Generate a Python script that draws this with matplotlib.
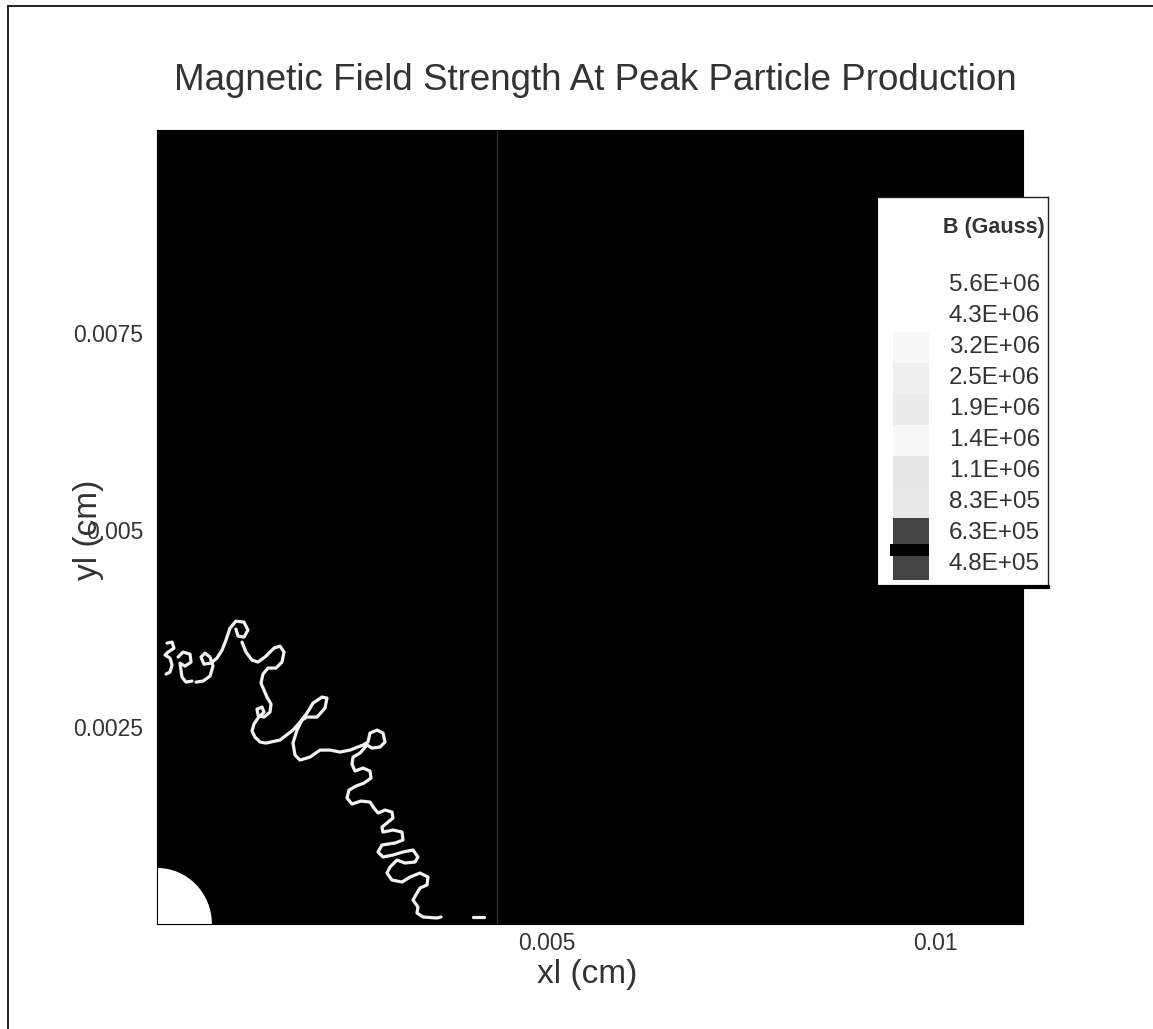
import matplotlib
matplotlib.use("Agg")
import matplotlib.pyplot as plt
from matplotlib.patches import Ellipse, Rectangle
from matplotlib.lines import Line2D
import numpy as np

# ---------------- data ----------------
title = "Magnetic Field Strength At Peak Particle Production"
x_label = "xl (cm)"
y_label = "yl (cm)"
x_ticks = [0.005, 0.01]
x_tick_labels = ["0.005", "0.01"]
y_ticks = [0.0025, 0.005, 0.0075]
y_tick_labels = ["0.0025", "0.005", "0.0075"]
x_range = [0.0, 0.01112]
y_range = [0.0, 0.01008]

# patch boundary (cm)
patch_boundary_x = 0.004365
# white core region (quarter disc at origin), radius in cm
core_radius_x = 0.000705
core_radius_y = 0.000712

# filament (high field) contours, coordinates in micrometres (1e-4 cm)
fil_a_x = [1.28, 1.93, 2.18, 1.41, 1.03, 1.67, 1.93, 1.67, 1.16]
fil_a_y = [35.66, 35.79, 35.02, 34.52, 34.14, 33.76, 32.87, 31.98, 31.73]

fil_b_x = [2.70, 3.34, 4.24, 4.37, 3.60, 2.95, 3.08, 3.21, 3.72, 4.49]
fil_b_y = [33.88, 34.52, 34.26, 33.25, 32.74, 33.12, 32.23, 31.34, 30.71, 30.84]

fil_c_x = [5.01, 5.91, 6.81, 7.19, 6.81, 6.16, 5.65, 6.03, 6.93, 7.70, 8.35, 8.86,
           9.37, 10.14, 11.17, 11.68, 11.17, 10.40, 10.14]
fil_c_y = [30.71, 30.84, 31.47, 32.74, 33.88, 34.39, 33.88, 32.99, 33.12, 33.76, 34.77,
           36.04, 37.56, 38.45, 38.32, 37.31, 36.42, 36.55, 37.44]

fil_d_x = [10.91, 11.43, 12.20, 12.97, 14.00, 15.02, 15.79, 16.31, 16.05, 15.28, 14.25,
           13.61, 13.35, 13.74, 14.12, 14.64, 14.51, 13.74, 12.97, 12.84, 13.48, 13.74,
           12.97, 12.45, 12.20, 12.58, 13.23, 14.00, 15.79, 17.46, 18.36, 19.26, 20.03,
           21.19, 21.83, 21.57, 20.54, 19.26, 18.62, 17.98, 17.46, 17.72, 18.36, 19.65,
           20.93, 22.21, 23.50, 24.78, 26.45, 27.09, 27.35, 28.25, 29.02, 29.28, 28.63,
           27.61, 26.96, 26.07, 25.17, 25.04, 25.42, 26.45, 27.35, 27.48, 26.58, 25.55,
           24.65, 24.40, 25.04, 26.19, 27.35, 27.86, 28.38, 29.28, 30.17, 30.30, 29.53,
           28.89, 29.02, 30.30, 31.46, 31.59, 30.56, 28.89, 28.38, 29.02, 30.30, 31.59,
           32.87, 33.51, 33.13, 31.84, 30.82, 29.92, 29.53, 30.17, 31.46, 32.49, 33.77,
           34.80, 34.67, 33.77, 33.38, 32.87, 33.51, 33.38, 34.15, 35.95, 36.47]
fil_d_y = [35.79, 34.52, 33.50, 33.25, 34.01, 35.02, 35.28, 34.52, 33.25, 32.49, 32.49,
           31.73, 30.58, 29.69, 28.81, 27.92, 26.90, 26.27, 26.52, 27.28, 27.54, 26.90,
           26.14, 25.38, 24.49, 23.73, 23.10, 22.97, 23.35, 24.62, 25.63, 26.78, 28.04,
           28.81, 28.68, 27.41, 26.27, 26.27, 25.89, 24.62, 22.97, 21.45, 20.81, 21.19,
           22.08, 22.08, 21.83, 22.08, 22.72, 23.10, 24.24, 24.62, 24.24, 23.10, 22.46,
           22.33, 22.72, 21.70, 21.19, 20.30, 19.42, 19.80, 19.42, 18.53, 17.89, 17.51,
           17.00, 15.99, 15.23, 15.61, 15.48, 14.72, 14.09, 14.47, 14.21, 13.45, 12.82,
           12.31, 11.67, 11.93, 11.67, 10.66, 10.28, 10.03, 9.14, 8.50, 8.76, 9.14,
           9.39, 8.50, 7.87, 7.74, 8.12, 7.23, 6.47, 5.58, 5.33, 5.96, 6.47,
           5.96, 4.95, 4.57, 3.93, 3.05, 2.16, 1.40, 0.89, 0.76, 0.89]

fil_e_x = [40.57, 41.99]
fil_e_y = [0.89, 0.89]

# legend (B levels in Gauss)
legend_title = "B (Gauss)"
level_labels = ["5.6E+06", "4.3E+06", "3.2E+06", "2.5E+06", "1.9E+06",
                "1.4E+06", "1.1E+06", "8.3E+05", "6.3E+05", "4.8E+05"]
level_colors = ["#ffffff", "#ffffff", "#f6f6f6", "#efefef", "#ebebeb",
                "#f7f7f7", "#e6e6e6", "#e8e8e8", "#444444", "#444444"]

UM = 1e-4  # micrometre -> cm

# ---------------- figure ----------------
plt.rcParams['font.family'] = ['Liberation Sans', 'DejaVu Sans']
W, H = 1153, 1029
fig = plt.figure(figsize=(W / 100, H / 100), dpi=100)
fig.patch.set_facecolor("white")

# page border (scan frame)
fig.add_artist(Line2D([8 / W, 1.0], [1 - 6 / H, 1 - 6 / H], color="#222222", lw=1.4))
fig.add_artist(Line2D([8 / W, 8 / W], [0.0, 1 - 6 / H], color="#222222", lw=1.4))

ax = fig.add_axes([157 / W, 1 - 924 / H, (1023 - 157) / W, (924 - 130) / H])
ax.set_facecolor("black")
ax.set_xlim(*x_range)
ax.set_ylim(*y_range)

ax.axvline(patch_boundary_x, color="#2e2e2e", lw=1.0, zorder=1)

ax.add_patch(Ellipse((0, 0), 2 * core_radius_x, 2 * core_radius_y,
                     facecolor="white", edgecolor="none", zorder=2))

for fx, fy in [(fil_a_x, fil_a_y), (fil_b_x, fil_b_y), (fil_c_x, fil_c_y),
               (fil_d_x, fil_d_y), (fil_e_x, fil_e_y)]:
    ax.plot(np.array(fx) * UM, np.array(fy) * UM, color="#f2f2f2", lw=2.3,
            solid_capstyle="round", solid_joinstyle="round", zorder=3)

ax.set_xticks(x_ticks)
ax.set_xticklabels(x_tick_labels)
ax.set_yticks(y_ticks)
ax.set_yticklabels(y_tick_labels)
ax.tick_params(axis="x", length=0, labelsize=16.5, labelcolor="#333333", pad=6)
ax.tick_params(axis="y", length=0, labelsize=16.5, labelcolor="#333333", pad=10)
for sp in ax.spines.values():
    sp.set_color("black")

fig.text(595 / W, 1 - 80 / H, title, ha="center", va="center",
         fontsize=26.5, color="#333333")
fig.text(587 / W, 1 - 974 / H, x_label, ha="center", va="center",
         fontsize=24, color="#333333")
fig.text(88 / W, 1 - 530 / H, y_label, ha="center", va="center", rotation=90,
         fontsize=24, color="#333333")

# ---------------- legend box ----------------
lx0, lx1, ly0, ly1 = 876, 1048, 197, 587
lax = fig.add_axes([lx0 / W, 1 - ly1 / H, (lx1 - lx0) / W, (ly1 - ly0) / H])
lax.set_xlim(0, 1)
lax.set_ylim(1, 0)
lax.set_facecolor("white")
lax.set_xticks([])
lax.set_yticks([])
for name, sp in lax.spines.items():
    sp.set_color("#222222")
    sp.set_linewidth(1.0)
lax.spines["left"].set_linewidth(3.0)
lax.spines["bottom"].set_linewidth(3.0)
lax.spines["left"].set_color("black")
lax.spines["bottom"].set_color("black")

lax.text(0.983, 31 / 390, legend_title, ha="right", va="center",
         fontsize=15.5, fontweight="bold", color="#333333")
first = 88 / 390
step = 31 / 390
n = len(level_labels)
for i, (lab, col) in enumerate(zip(level_labels, level_colors)):
    yc = first + i * step
    lax.text(0.953, yc, lab, ha="right", va="center", fontsize=17.5, color="#333333")
    lax.add_patch(Rectangle((0.10, yc - step / 2), 0.21, step,
                            facecolor=col, edgecolor="none", zorder=1))
# black separator band between the two lowest levels
yb = first + (n - 1.5) * step
lax.add_patch(Rectangle((0.08, yb - 0.012), 0.23, 0.03,
                        facecolor="black", edgecolor="none", zorder=2))

fig.savefig("out.png", dpi=100, facecolor="white")
